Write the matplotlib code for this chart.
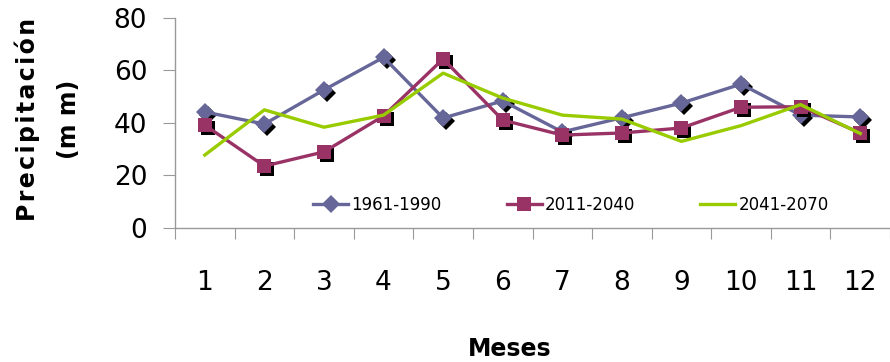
import matplotlib
matplotlib.use("Agg")
from matplotlib import pyplot as plt
from matplotlib.transforms import offset_copy

# monthly precipitation (mm)
meses = [1, 2, 3, 4, 5, 6, 7, 8, 9, 10, 11, 12]
p_1961_1990 = [44.2, 39.6, 52.6, 65.0, 41.9, 48.4, 36.6, 42.0, 47.6, 54.8, 43.0, 42.3]
p_2011_2040 = [39.2, 23.6, 29.0, 42.7, 64.4, 41.1, 35.4, 36.2, 38.1, 46.0, 46.2, 36.2]
p_2041_2070 = [27.8, 45.0, 38.4, 43.0, 59.0, 49.5, 43.0, 41.5, 33.0, 39.0, 47.0, 36.0]
y_ticks = [0, 20, 40, 60, 80]

fig = plt.figure(figsize=(8.9, 3.62), dpi=100)
ax = fig.add_axes([175/890, 1 - 228/362, 715/890, 210/362])

shadow = offset_copy(ax.transData, fig=fig, x=3, y=-3, units='dots')

# series 1
ax.plot(meses, p_1961_1990, 'D', color='black', ms=9.5, mew=0, transform=shadow, zorder=2)
ax.plot(meses, p_1961_1990, '-D', color='#666699', lw=2.4, ms=9.5, mew=0,
        label='1961-1990', zorder=3)
# series 2
ax.plot(meses, p_2011_2040, 's', color='black', ms=10.5, mew=0, transform=shadow, zorder=4)
ax.plot(meses, p_2011_2040, '-s', color='#993366', lw=2.4, ms=10.5, mew=0,
        label='2011-2040', zorder=5)
# series 3 (no markers)
ax.plot(meses, p_2041_2070, '-', color='#99CC00', lw=2.4, label='2041-2070', zorder=6)

ax.set_xlim(0.5, 12.5)
ax.set_ylim(0, 80)
ax.set_yticks(y_ticks)

# category boundaries get tick marks, centers get the labels
ax.set_xticks([i + 0.5 for i in range(0, 13)])
ax.set_xticklabels([])
ax.set_xticks(meses, minor=True)
ax.set_xticklabels([str(m) for m in meses], minor=True,
                   fontfamily='Liberation Sans Narrow', fontsize=19)
ax.tick_params(axis='x', which='major', length=8, color='#999999', direction='out')
ax.tick_params(axis='x', which='minor', length=0, pad=30)
ax.tick_params(axis='y', length=9, color='#999999', labelsize=19, pad=11)

for s in ['top', 'right']:
    ax.spines[s].set_visible(False)
for s in ['left', 'bottom']:
    ax.spines[s].set_color('#999999')
    ax.spines[s].set_linewidth(1.0)

ax.legend(loc='center', bbox_to_anchor=(0.554, 0.11), ncol=3, frameon=False,
          fontsize=12, handlelength=2.1, handletextpad=0.2, columnspacing=3.9)

fig.text(0.031, 0.671, "\u200a".join("Precipitación"), rotation=90, ha='center',
         va='center', fontsize=17, fontweight='bold')
fig.text(0.077, 0.669, "(m m)", rotation=90, ha='center', va='center',
         fontsize=17, fontweight='bold')
fig.text(0.573, 1 - 349/362, "Meses", ha='center', va='center',
         fontsize=17, fontweight='bold')

fig.savefig('out.png', dpi=100)
